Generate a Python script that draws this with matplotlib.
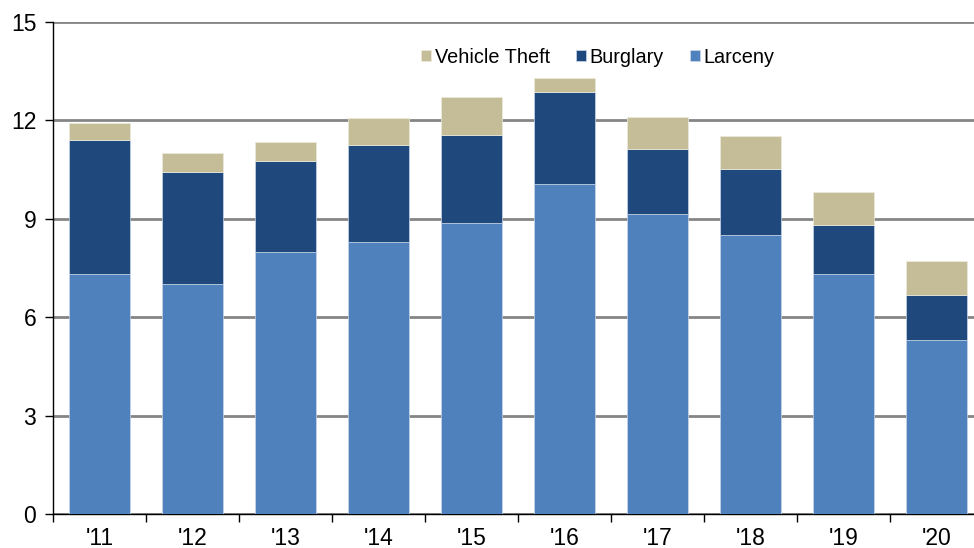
import matplotlib.pyplot as plt
import numpy as np

years = ["'11", "'12", "'13", "'14", "'15", "'16", "'17", "'18", "'19", "'20"]
larceny = [7.33, 7.02, 8.00, 8.29, 8.88, 10.07, 9.13, 8.51, 7.33, 5.31]
burglary = [4.08, 3.39, 2.77, 2.97, 2.68, 2.80, 1.98, 1.99, 1.47, 1.38]
vehicle_theft = [0.51, 0.59, 0.56, 0.82, 1.15, 0.43, 1.00, 1.02, 1.02, 1.01]

plt.rcParams['font.family'] = ['Liberation Sans', 'DejaVu Sans']

fig = plt.figure(figsize=(9.74, 5.48), dpi=100)
ax = fig.add_axes([53 / 974, 33.7 / 548, 930 / 974, 492.6 / 548])

x = np.arange(len(years))
lar = np.array(larceny)
bur = np.array(burglary)
vt = np.array(vehicle_theft)
w = 0.66
b1 = ax.bar(x, lar, w, color='#4F81BD', edgecolor='#C9D7EA', linewidth=0.5, label='Larceny', zorder=3)
b2 = ax.bar(x, bur, w, bottom=lar, color='#1F497D', edgecolor='#C9D7EA', linewidth=0.5, label='Burglary', zorder=3)
b3 = ax.bar(x, vt, w, bottom=lar + bur, color='#C4BD97', edgecolor='#EEEBDD', linewidth=0.5, label='Vehicle Theft', zorder=3)

ax.set_xlim(-0.5, len(years) - 0.5)
ax.set_ylim(0, 15)
ax.set_yticks(range(0, 16, 3))
ax.yaxis.grid(True, color='#858585', linewidth=2, zorder=0)
ax.set_xticks(x)
ax.set_xticklabels(years)
ax.set_xticks(np.arange(-0.5, len(years), 1), minor=True)
ax.tick_params(axis='x', which='major', length=0, labelsize=16.5, pad=9)
ax.tick_params(axis='x', which='minor', length=6, width=1, direction='out')
ax.tick_params(axis='y', length=6, width=1, labelsize=16.5, pad=6)

for s in ['top', 'right']:
    ax.spines[s].set_visible(False)
ax.spines['left'].set_linewidth(1)
ax.spines['bottom'].set_linewidth(1)

ax.legend([b3, b2, b1], ['Vehicle Theft', 'Burglary', 'Larceny'], loc='center',
          bbox_to_anchor=(0.586, 0.928), ncol=3, frameon=False, fontsize=14.3,
          handlelength=0.5, handleheight=0.5, handletextpad=0.2, columnspacing=1.3)

plt.savefig('out.png', dpi=100)
